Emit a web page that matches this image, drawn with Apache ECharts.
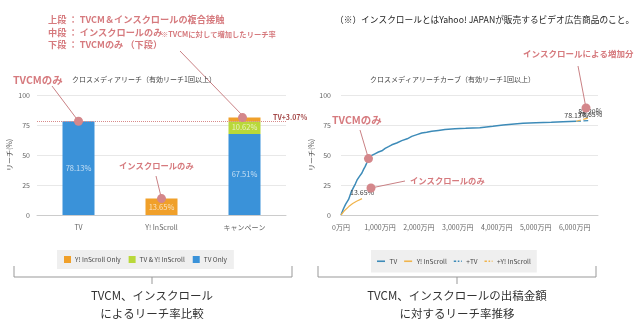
<!DOCTYPE html>
<html><head><meta charset="utf-8">
<script src="https://cdn.jsdelivr.net/npm/echarts@6/dist/echarts.min.js"></script>
<style>html,body{margin:0;padding:0;background:#fff}#c{width:640px;height:327px}</style>
</head><body><div id="c"></div>
<script>
// ---- data ----
const barCategories = ['TV', 'Y! InScroll', 'キャンペーン'];
const tvOnly = [78.13, null, 67.51];
const tvAndInScroll = [null, null, 10.62];
const inScrollOnly = [null, 13.65, 3.07];
const tvReference = 78.13;

const tvCurve = [[0,0],[60,5],[120,9],[195,13],[260,19],[322,23],[370,26],[410,29],[470,32],[537,35],[580,38],[622,40.5],[670,44],[706,47],[750,49],[793,50],[870,51],[962,52.5],[1050,53.5],[1134,55.5],[1220,57],[1305,58.5],[1430,60],[1561,62],[1700,63.5],[1817,65.5],[1950,67],[2073,68.3],[2200,69],[2329,69.8],[2500,70.5],[2670,71.2],[2926,71.8],[3200,72.2],[3565,72.8],[3900,74],[4162,75],[4450,75.8],[4674,76.4],[5000,76.8],[5400,77.3],[5698,77.7],[6041,78.13]];
const inScrollCurve = [[0,0],[100,4],[200,7],[300,9.5],[400,11.5],[540,13.65]];
const plusTv = [[6041,78.13],[6400,78.65]];
const plusInScroll = [[6041,78.13],[6400,81.20]];
const curveMax = 6600;
const curveStep = 1000;

const FF = '"Noto Sans CJK JP", "Noto Sans", sans-serif';
const PINK = '#d67a7e';
const DOT = '#d4878b';
const SOLID = 'path://M0,0L10,0L10,2L0,2Z';
const DASHED = 'path://M0,0L3,0L3,2L0,2Z M5,0L7,0L7,2L5,2Z M9,0L10,0L10,2L9,2Z';

const chart = echarts.init(document.getElementById('c'), null, {renderer:'canvas'});

const axisLbl = {color:'#666', fontSize:7, fontFamily:FF};
const pctLabel = {show:true, position:'inside', color:'rgba(255,255,255,0.7)', fontSize:7.5, fontFamily:FF};

function endMark(txt){
  return {symbol:'circle', symbolSize:1, itemStyle:{color:'rgba(0,0,0,0)'},
    label:{show:true, position:'top', distance:2, formatter:txt, color:'#444', fontSize:7, fontFamily:FF}};
}

chart.setOption({
  animation:false,
  textStyle:{fontFamily:FF},
  grid:[
    {left:37, top:95, width:249, height:120},
    {left:341, top:95, width:257, height:120}
  ],
  xAxis:[
    {type:'category', gridIndex:0, data:barCategories,
     axisLine:{lineStyle:{color:'#ccc'}}, axisTick:{show:false},
     axisLabel:Object.assign({margin:9}, axisLbl)},
    {type:'value', gridIndex:1, min:0, max:curveMax, interval:curveStep,
     axisLine:{show:true, lineStyle:{color:'#ccc'}}, axisTick:{show:false}, splitLine:{show:false},
     axisLabel:Object.assign({margin:9, formatter:v => v % curveStep === 0 ? v.toLocaleString('en-US') + '万円' : ''}, axisLbl)}
  ],
  yAxis:[
    {type:'value', gridIndex:0, min:0, max:100, interval:25,
     name:'リーチ(%)', nameLocation:'middle', nameGap:24, nameRotate:90,
     nameTextStyle:{color:'#555', fontSize:7, fontFamily:FF},
     axisLine:{show:false}, axisTick:{show:false},
     splitLine:{lineStyle:{color:'#e8e8e8'}}, axisLabel:Object.assign({margin:7}, axisLbl)},
    {type:'value', gridIndex:1, min:0, max:100, interval:25,
     name:'リーチ(%)', nameLocation:'middle', nameGap:26, nameRotate:90,
     nameTextStyle:{color:'#555', fontSize:7, fontFamily:FF},
     axisLine:{show:false}, axisTick:{show:false},
     splitLine:{lineStyle:{color:'#e8e8e8'}}, axisLabel:Object.assign({margin:10}, axisLbl)}
  ],
  legend:[
    {data:['Y! InScroll Only','TV & Y! InScroll','TV Only'], left:57, top:250,
     backgroundColor:'#efefef', padding:[6,7], itemWidth:7, itemHeight:7, itemGap:8, icon:'rect',
     textStyle:{fontSize:6.5, color:'#444', fontFamily:FF, padding:[0,0,0,-1]}},
    {data:[{name:'TV', icon:SOLID},{name:'Y! InScroll', icon:SOLID},{name:'+TV', icon:DASHED},{name:'+Y! InScroll', icon:DASHED}],
     left:371, top:250,
     backgroundColor:'#efefef', padding:[8,6], itemWidth:9, itemHeight:1.6, itemGap:7,
     textStyle:{fontSize:6.5, color:'#444', fontFamily:FF, padding:[0,0,0,-1]}}
  ],
  series:[
    {name:'TV Only', type:'bar', stack:'c', xAxisIndex:0, yAxisIndex:0, barWidth:32, data:tvOnly,
     itemStyle:{color:'#3a92d9'},
     label:Object.assign({formatter:p => p.value.toFixed(2)+'%'}, pctLabel),
     markLine:{symbol:'none', silent:true, label:{show:false},
       lineStyle:{type:'dotted', color:'#d88b8b', width:1}, data:[{yAxis:tvReference}]}},
    {name:'TV & Y! InScroll', type:'bar', stack:'c', xAxisIndex:0, yAxisIndex:0, barWidth:32, data:tvAndInScroll,
     itemStyle:{color:'#b9d83a'},
     label:Object.assign({formatter:p => p.value.toFixed(2)+'%'}, pctLabel)},
    {name:'Y! InScroll Only', type:'bar', stack:'c', xAxisIndex:0, yAxisIndex:0, barWidth:32, data:inScrollOnly,
     itemStyle:{color:'#f0a02a'},
     label:Object.assign({formatter:p => p.value > 5 ? p.value.toFixed(2)+'%' : ''}, pctLabel)},
    {name:'TV', type:'line', xAxisIndex:1, yAxisIndex:1, data:tvCurve, symbol:'none',
     lineStyle:{color:'#3d8bb8', width:1.5}, itemStyle:{color:'#3d8bb8'},
     markPoint:Object.assign({data:[{coord:tvCurve[tvCurve.length-1]}]}, endMark('78.13%'))},
    {name:'Y! InScroll', type:'line', xAxisIndex:1, yAxisIndex:1, data:inScrollCurve, symbol:'none',
     lineStyle:{color:'#f0b44c', width:1.2}, itemStyle:{color:'#f0b44c'},
     markPoint:Object.assign({data:[{coord:inScrollCurve[inScrollCurve.length-1]}]}, endMark('13.65%'))},
    {name:'+TV', type:'line', xAxisIndex:1, yAxisIndex:1, data:plusTv, symbol:'none',
     lineStyle:{color:'#3d8bb8', width:1.2, type:'dashed'}, itemStyle:{color:'#3d8bb8'},
     markPoint:Object.assign({data:[{coord:plusTv[plusTv.length-1]}]}, endMark('78.65%'))},
    {name:'+Y! InScroll', type:'line', xAxisIndex:1, yAxisIndex:1, data:plusInScroll, symbol:'none',
     lineStyle:{color:'#f0b44c', width:1.2, type:'dashed'}, itemStyle:{color:'#f0b44c'},
     markPoint:Object.assign({data:[{coord:plusInScroll[plusInScroll.length-1]}]}, endMark('81.20%'))}
  ]
});

// ---- annotations ----
const pTvBar = chart.convertToPixel({xAxisIndex:0, yAxisIndex:0}, [barCategories[0], tvOnly[0]]);
const pInBar = chart.convertToPixel({xAxisIndex:0, yAxisIndex:0}, [barCategories[1], inScrollOnly[1]]);
const pCamp = chart.convertToPixel({xAxisIndex:0, yAxisIndex:0}, [barCategories[2], tvOnly[2]+tvAndInScroll[2]+inScrollOnly[2]]);
const pTvCurve = chart.convertToPixel({xAxisIndex:1, yAxisIndex:1}, tvCurve[13]);

function txt(x, y, s, size, color, weight, align){
  return {type:'text', x:x, y:y, z:100, style:{text:s, font:(weight||'normal')+' '+size+'px '+FF, fill:color,
    align:align||'left', verticalAlign:'middle', textAlign:align||'left', textVerticalAlign:'middle'}};
}
function ln(x1,y1,x2,y2,c,w){ return {type:'line', z:99, shape:{x1,y1,x2,y2}, style:{stroke:c||'#c98084', lineWidth:w||1}}; }
function dot(x,y){ return {type:'circle', z:101, shape:{cx:x, cy:y, r:4.5}, style:{fill:DOT}}; }

const g = [
  txt(48, 20, '上段 ： TVCM＆インスクロールの複合接触', 9.2, PINK, 'bold'),
  txt(48, 33, '中段 ： インスクロールのみ', 9.2, PINK, 'bold'),
  txt(161, 34, '※TVCMに対して増加したリーチ率', 7.3, PINK, 'bold'),
  txt(48, 45, '下段 ： TVCMのみ （下段）', 9.2, PINK, 'bold'),
  txt(335, 20, '（※）インスクロールとはYahoo! JAPANが販売するビデオ広告商品のこと。', 8.7, '#222', 'normal'),
  txt(13, 80, 'TVCMのみ', 10.5, PINK, 'bold'),
  txt(72, 79, 'クロスメディアリーチ（有効リーチ1回以上）', 7, '#444', 'normal'),
  txt(370, 79, 'クロスメディアリーチカーブ（有効リーチ1回以上）', 7, '#444', 'normal'),
  txt(523, 54, 'インスクロールによる増加分', 8.5, PINK, 'bold'),
  txt(332, 120, 'TVCMのみ', 10.5, PINK, 'bold'),
  txt(119, 166, 'インスクロールのみ', 8.3, PINK, 'bold'),
  txt(410, 181, 'インスクロールのみ', 8.3, PINK, 'bold'),
  txt(273, 117, 'TV+3.07%', 7, '#a54a4a', 'bold'),
  // leader lines
  ln(52, 86, pTvBar[0], pTvBar[1]),
  ln(180, 51, pCamp[0], pCamp[1]),
  ln(156, 176, pInBar[0], pInBar[1]),
  ln(360, 130, pTvCurve[0], pTvCurve[1]),
  ln(405, 181, 371, 188),
  ln(578, 66, 586, 108),
  dot(pTvBar[0], pTvBar[1]), dot(pInBar[0], pInBar[1]), dot(pCamp[0]-2, pCamp[1]),
  dot(pTvCurve[0], pTvCurve[1]), dot(371, 188), dot(586, 108),
  // brackets
  {type:'polyline', z:50, shape:{points:[[14,266],[14,277],[292,277],[292,266]]}, style:{stroke:'#999', fill:null, lineWidth:1}},
  ln(152, 277, 152, 284, '#999'),
  {type:'polyline', z:50, shape:{points:[[318,266],[318,277],[596,277],[596,266]]}, style:{stroke:'#999', fill:null, lineWidth:1}},
  ln(457, 277, 457, 284, '#999'),
  txt(152, 296, 'TVCM、インスクロール', 11.5, '#333', 'normal', 'center'),
  txt(152, 314, 'によるリーチ率比較', 11.5, '#333', 'normal', 'center'),
  txt(457, 296, 'TVCM、インスクロールの出稿金額', 11.5, '#333', 'normal', 'center'),
  txt(457, 314, 'に対するリーチ率推移', 11.5, '#333', 'normal', 'center')
];
chart.setOption({graphic:g});
</script></body></html>
